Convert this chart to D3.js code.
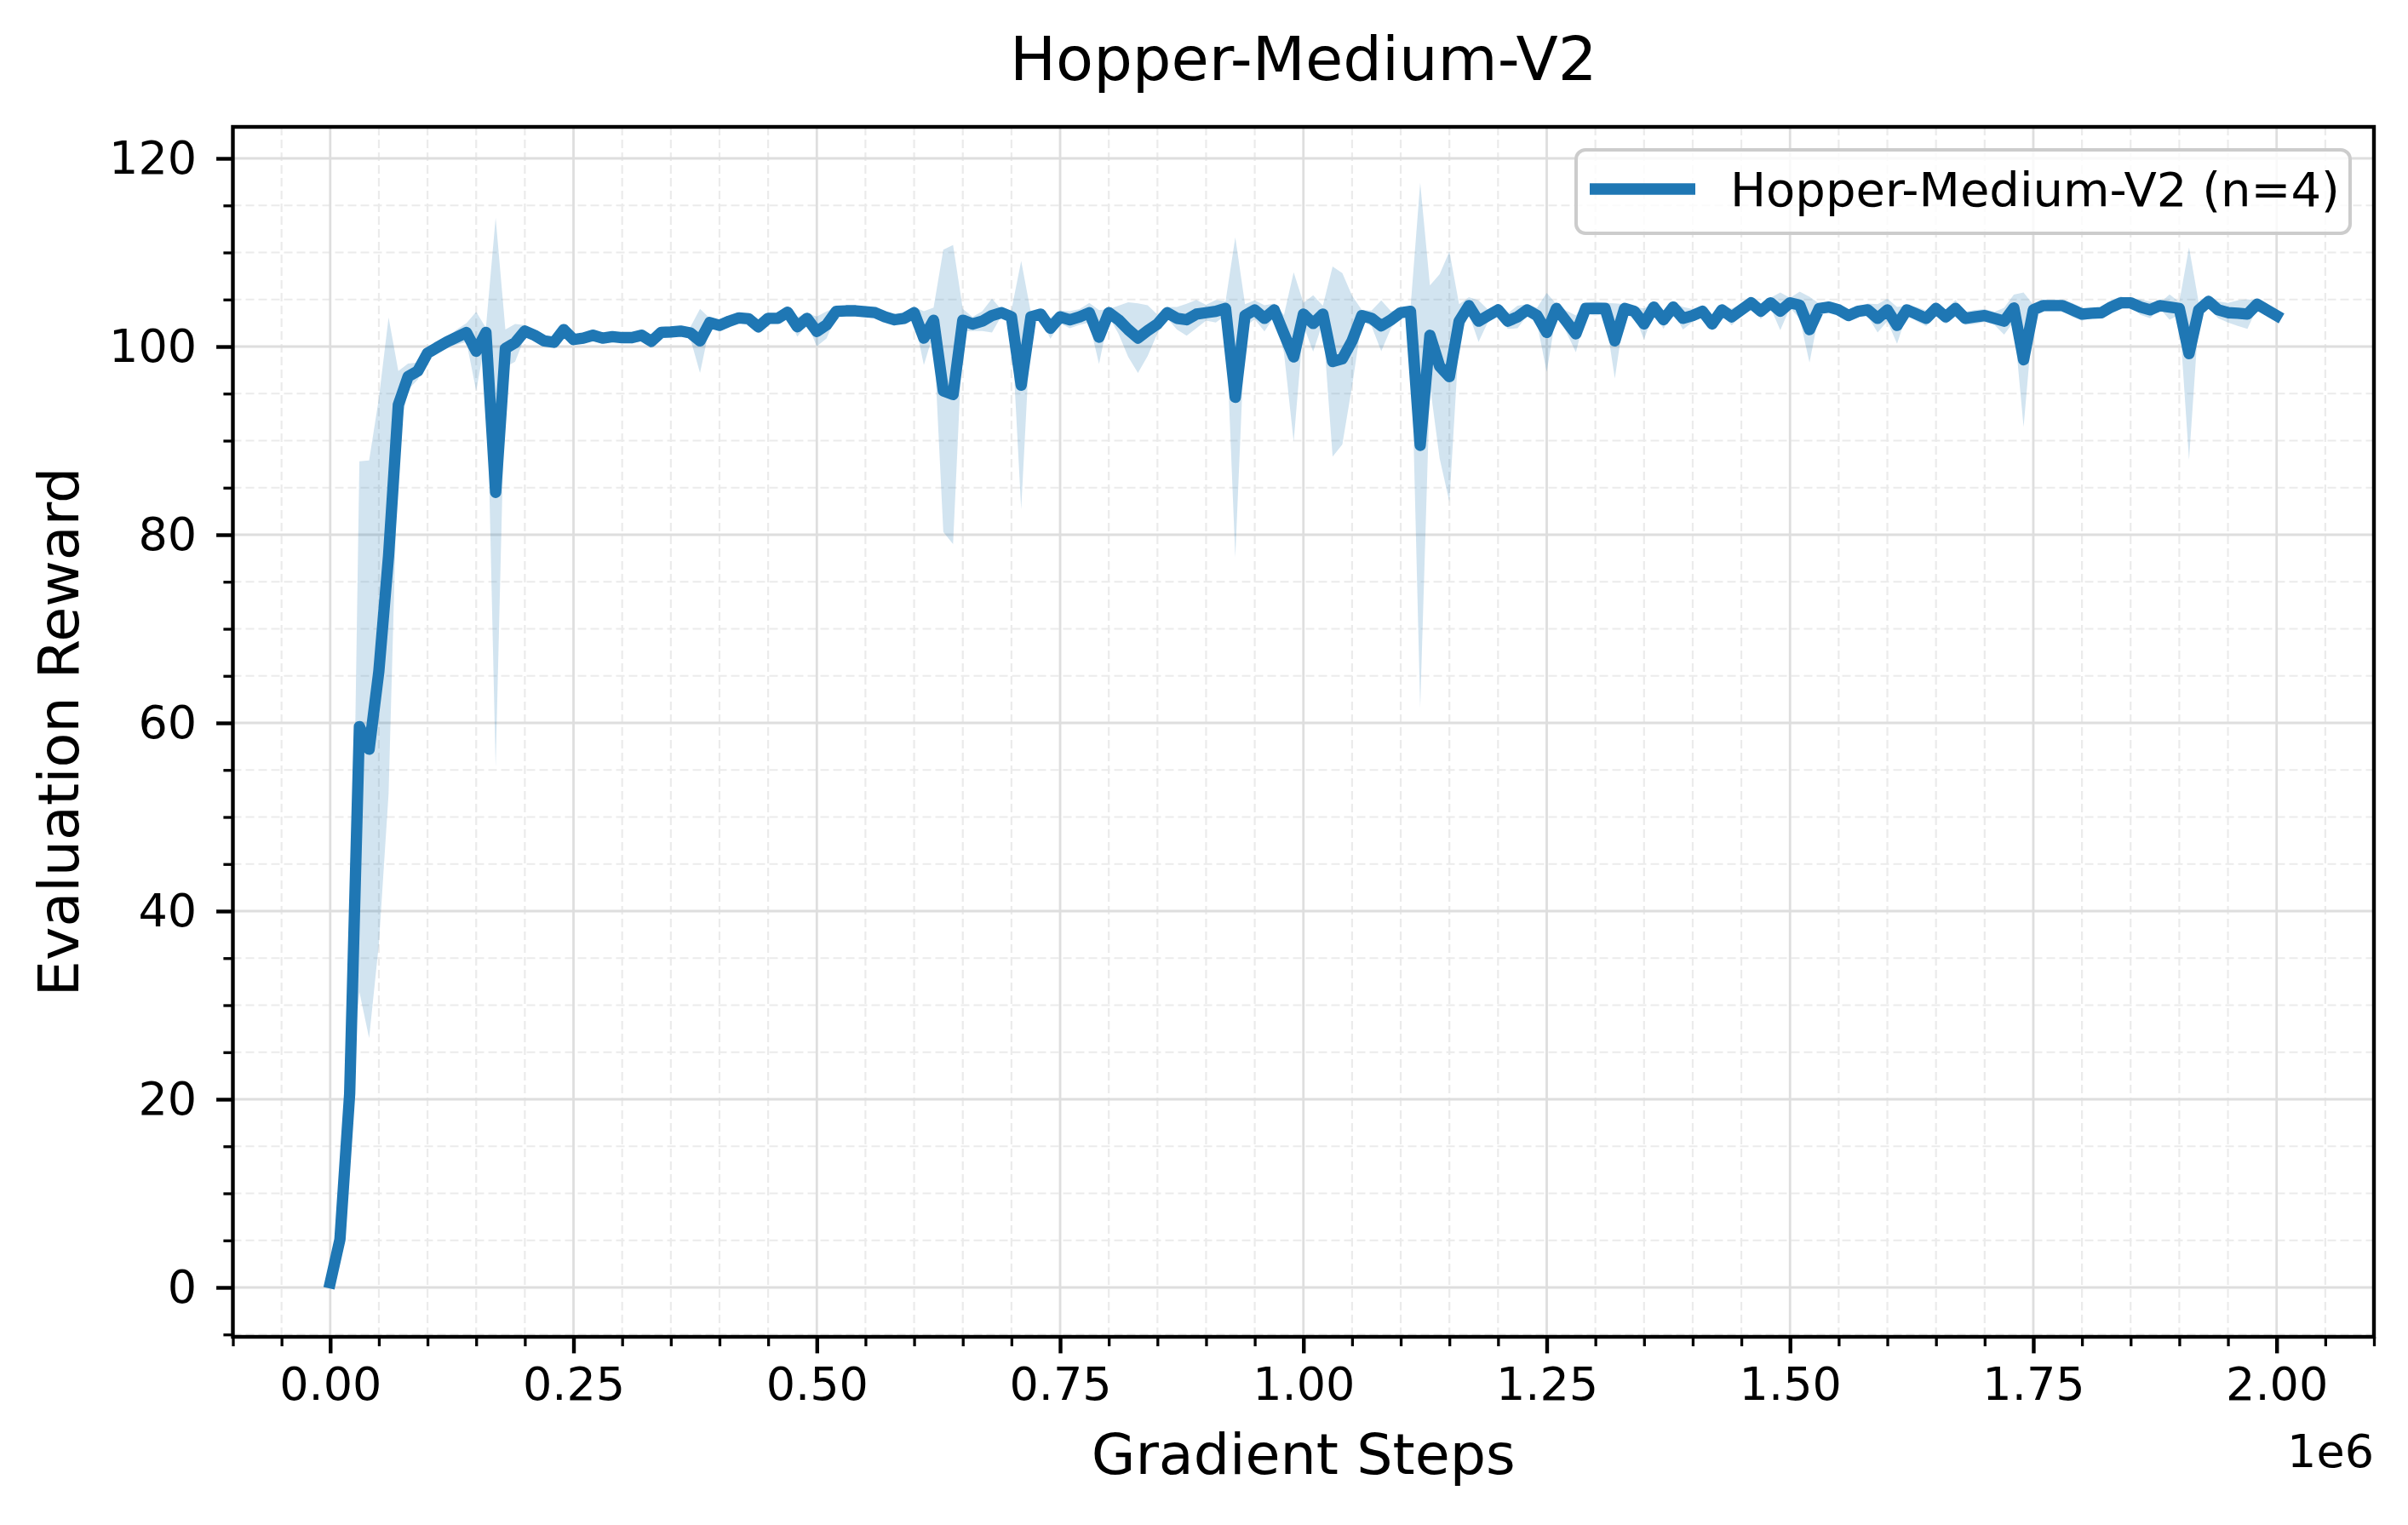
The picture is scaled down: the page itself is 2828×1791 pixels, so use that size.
<!DOCTYPE html>
<html>
<head>
<meta charset="utf-8">
<script src="https://cdn.jsdelivr.net/npm/d3@7"></script>
<style>
  html, body { margin: 0; padding: 0; background: #ffffff; }
  svg { display: block; }
  text { font-family: "DejaVu Sans", sans-serif; fill: #000; }
</style>
</head>
<body>
<svg id="chart" width="2828" height="1791"></svg>
<script>
// ---------------- data ----------------
const title = "Hopper-Medium-V2";
const seriesName = "Hopper-Medium-V2 (n=4)";
const xLabel = "Gradient Steps";
const yLabel = "Evaluation Reward";
const xOffsetLabel = "1e6";

// evaluation every 10k gradient steps, 0 .. 2e6
const steps = d3.range(0, 2000001, 10000);

const meanReward = [
  0.5, 5.1, 20.6, 59.6, 57.2, 65.5, 77.8, 93.8, 96.8, 97.4,
  99.3, 99.9, 100.5, 101.0, 101.5, 99.5, 101.5, 84.5, 99.8, 100.4,
  101.65, 101.2, 100.6, 100.45, 101.8, 100.75, 100.9, 101.2, 100.9, 101.05,
  100.95, 100.95, 101.2, 100.55, 101.5, 101.55, 101.65, 101.45, 100.6, 102.55,
  102.25, 102.7, 103.05, 102.95, 102.1, 103.0, 103.0, 103.65, 102.1, 103.0,
  101.6, 102.3, 103.75, 103.8, 103.8, 103.7, 103.6, 103.15, 102.85, 103.0,
  103.6, 100.9, 102.8, 95.3, 94.9, 102.8, 102.4, 102.7, 103.3, 103.6,
  103.15, 95.9, 103.15, 103.45, 101.95, 103.15, 102.85, 103.15, 103.6, 101.0,
  103.6, 102.85, 101.8, 100.9, 101.7, 102.4, 103.6, 103.0, 102.85, 103.45,
  103.6, 103.75, 104.05, 94.6, 103.3, 103.9, 103.0, 103.9, 101.35, 98.9,
  103.45, 102.45, 103.45, 98.4, 98.7, 100.6, 103.3, 103.0, 102.2, 102.85,
  103.6, 103.75, 89.5, 101.2, 97.9, 96.8, 102.7, 104.35, 102.7, 103.3,
  103.9, 102.7, 103.15, 103.9, 103.3, 101.5, 104.05, 102.7, 101.35, 104.05,
  104.05, 104.05, 100.6, 104.05, 103.75, 102.4, 104.2, 102.85, 104.2, 103.0,
  103.3, 103.75, 102.4, 103.9, 103.15, 103.9, 104.65, 103.75, 104.65, 103.75,
  104.65, 104.4, 101.8, 104.05, 104.2, 103.9, 103.3, 103.75, 103.9, 103.0,
  103.9, 102.25, 103.9, 103.45, 103.0, 104.05, 103.15, 104.05, 103.0, 103.15,
  103.3, 103.0, 102.7, 104.1, 98.6, 103.9, 104.35, 104.35, 104.35, 103.9,
  103.45, 103.55, 103.6, 104.2, 104.65, 104.65, 104.2, 103.9, 104.35, 104.2,
  104.05, 99.25, 103.9, 104.8, 103.9, 103.6, 103.55, 103.45, 104.5, 103.9,
  103.3
];

// standard deviation across the 4 seeds (shaded band = mean +/- std)
const stdReward = [
  0.2, 0.3, 0.6, 28.2, 30.7, 29.0, 25.3, 3.6, 1.4, 0.9,
  0.6, 0.6, 0.5, 0.8, 1.0, 4.2, 0.5, 29.2, 2.0, 2.0,
  0.63, 0.53, 0.45, 0.45, 0.45, 0.53, 0.53, 0.6, 0.53, 0.53,
  0.45, 0.6, 0.6, 0.45, 0.6, 0.6, 0.53, 0.6, 3.4, 0.45,
  0.6, 0.68, 0.53, 0.53, 0.45, 0.45, 0.53, 0.45, 1.05, 0.53,
  1.58, 1.43, 0.45, 0.45, 0.45, 0.4, 0.35, 0.4, 0.35, 0.4,
  0.6, 2.86, 1.35, 15.0, 15.9, 1.2, 0.75, 1.05, 1.8, 0.3,
  0.75, 13.2, 0.45, 0.45, 1.13, 0.68, 0.9, 0.83, 1.05, 2.86,
  0.38, 1.5, 2.9, 3.7, 2.7, 1.0, 0.6, 1.2, 1.7, 1.5,
  0.83, 1.2, 0.75, 17.0, 1.2, 1.0, 1.4, 0.68, 2.0, 9.0,
  1.2, 3.0, 0.9, 10.1, 9.1, 4.8, 0.6, 0.83, 2.7, 0.9,
  0.38, 0.3, 27.9, 5.3, 9.8, 13.3, 1.8, 0.9, 2.2, 0.6,
  0.45, 0.83, 1.2, 0.6, 0.83, 4.2, 0.45, 1.13, 1.95, 0.6,
  0.75, 0.6, 4.0, 0.45, 0.45, 1.65, 0.53, 0.98, 0.53, 1.2,
  0.68, 0.45, 0.68, 0.45, 0.9, 0.6, 0.45, 0.83, 0.53, 2.0,
  0.53, 1.43, 3.5, 0.53, 0.38, 0.3, 0.53, 0.53, 0.68, 1.5,
  1.2, 1.95, 0.45, 0.75, 0.83, 0.75, 0.75, 0.9, 0.68, 0.75,
  0.68, 0.68, 1.43, 1.43, 7.15, 0.53, 0.45, 0.45, 0.53, 0.75,
  0.68, 0.53, 0.53, 0.68, 0.68, 0.3, 0.83, 0.9, 0.3, 1.35,
  0.68, 11.3, 0.75, 0.68, 0.9, 1.05, 1.35, 1.58, 0.38, 0.68,
  0.45
];

const xTickValues = [0, 250000, 500000, 750000, 1000000, 1250000, 1500000, 1750000, 2000000];
const xTickLabels = ["0.00", "0.25", "0.50", "0.75", "1.00", "1.25", "1.50", "1.75", "2.00"];
const yTickValues = [0, 20, 40, 60, 80, 100, 120];
const yTickLabels = ["0", "20", "40", "60", "80", "100", "120"];
const xDomain = [-100000, 2100000];
const yDomain = [-5.25, 123.35];

// ---------------- layout ----------------
const W = 2828, H = 1791;
const plot = { left: 273.5, right: 2788, top: 149, bottom: 1570 };
const COLOR = "#1f77b4";

const svg = d3.select("#chart");
svg.append("rect").attr("width", W).attr("height", H).attr("fill", "#ffffff");

const x = d3.scaleLinear().domain(xDomain).range([plot.left, plot.right]);
const y = d3.scaleLinear().domain(yDomain).range([plot.bottom, plot.top]);

const data = steps.map((s, i) => ({ s, m: meanReward[i], sd: stdReward[i] }));

// minor tick positions (excluding majors)
const xMinor = d3.range(-100000, 2100001, 50000).filter(v => v % 250000 !== 0);
const yMinor = d3.range(-5, 121, 5).filter(v => v % 20 !== 0);

svg.append("defs").append("clipPath").attr("id", "clip")
  .append("rect")
  .attr("x", plot.left).attr("y", plot.top)
  .attr("width", plot.right - plot.left).attr("height", plot.bottom - plot.top);

// grid
const grid = svg.append("g");
grid.selectAll(".gxm").data(xMinor).join("line")
  .attr("x1", d => x(d)).attr("x2", d => x(d))
  .attr("y1", plot.top).attr("y2", plot.bottom)
  .attr("stroke", "#ebebeb").attr("stroke-width", 2.2).attr("stroke-dasharray", "10,5");
grid.selectAll(".gym").data(yMinor).join("line")
  .attr("y1", d => y(d)).attr("y2", d => y(d))
  .attr("x1", plot.left).attr("x2", plot.right)
  .attr("stroke", "#ebebeb").attr("stroke-width", 2.2).attr("stroke-dasharray", "10,5");
grid.selectAll(".gx").data(xTickValues).join("line")
  .attr("x1", d => x(d)).attr("x2", d => x(d))
  .attr("y1", plot.top).attr("y2", plot.bottom)
  .attr("stroke", "#dedede").attr("stroke-width", 2.8);
grid.selectAll(".gy").data(yTickValues).join("line")
  .attr("y1", d => y(d)).attr("y2", d => y(d))
  .attr("x1", plot.left).attr("x2", plot.right)
  .attr("stroke", "#dedede").attr("stroke-width", 2.8);

// band + line
const g = svg.append("g").attr("clip-path", "url(#clip)");
const area = d3.area()
  .x(d => x(d.s))
  .y0(d => y(d.m - d.sd))
  .y1(d => y(d.m + d.sd));
g.append("path").datum(data).attr("d", area)
  .attr("fill", COLOR).attr("fill-opacity", 0.2).attr("stroke", "none");

const line = d3.line().x(d => x(d.s)).y(d => y(d.m));
g.append("path").datum(data).attr("d", line)
  .attr("fill", "none").attr("stroke", COLOR).attr("stroke-width", 13.3)
  .attr("stroke-linejoin", "round").attr("stroke-linecap", "square");

// axes
const xAxis = d3.axisBottom(x).tickValues(xTickValues)
  .tickFormat((d, i) => xTickLabels[i]).tickSize(19.4).tickPadding(16);
const yAxis = d3.axisLeft(y).tickValues(yTickValues)
  .tickFormat((d, i) => yTickLabels[i]).tickSize(19.4).tickPadding(23);

const gx = svg.append("g").attr("transform", `translate(0,${plot.bottom})`).call(xAxis);
const gy = svg.append("g").attr("transform", `translate(${plot.left},0)`).call(yAxis);
[gx, gy].forEach(a => {
  a.select(".domain").remove();
  a.selectAll(".tick line").attr("stroke", "#000").attr("stroke-width", 4.4);
  a.selectAll(".tick text").attr("font-family", "DejaVu Sans").attr("font-size", 54).attr("fill", "#000");
});

// minor ticks
const gxMinor = svg.append("g").attr("transform", `translate(0,${plot.bottom})`)
  .call(d3.axisBottom(x).tickValues(xMinor).tickSize(11.1).tickFormat(""));
const gyMinor = svg.append("g").attr("transform", `translate(${plot.left},0)`)
  .call(d3.axisLeft(y).tickValues(yMinor).tickSize(11.1).tickFormat(""));
[gxMinor, gyMinor].forEach(a => {
  a.select(".domain").remove();
  a.selectAll(".tick line").attr("stroke", "#000").attr("stroke-width", 3.3);
});

// spines
svg.append("rect")
  .attr("x", plot.left).attr("y", plot.top)
  .attr("width", plot.right - plot.left).attr("height", plot.bottom - plot.top)
  .attr("fill", "none").attr("stroke", "#000").attr("stroke-width", 4.4);

// offset text
svg.append("text").attr("x", plot.right).attr("y", 1723)
  .attr("text-anchor", "end").attr("font-size", 54).text(xOffsetLabel);

// axis labels
svg.append("text").attr("x", (plot.left + plot.right) / 2).attr("y", 1731)
  .attr("text-anchor", "middle").attr("font-size", 66.7).text(xLabel);
svg.append("text")
  .attr("transform", `translate(92,${(plot.top + plot.bottom) / 2}) rotate(-90)`)
  .attr("text-anchor", "middle").attr("font-size", 66.7).text(yLabel);

// title
svg.append("text").attr("x", (plot.left + plot.right) / 2).attr("y", 94)
  .attr("text-anchor", "middle").attr("font-size", 72).text(title);

// legend
const lg = svg.append("g");
lg.append("rect").attr("x", 1851).attr("y", 176).attr("width", 909).attr("height", 98)
  .attr("rx", 11).attr("ry", 11)
  .attr("fill", "#ffffff").attr("fill-opacity", 0.8)
  .attr("stroke", "#cccccc").attr("stroke-width", 4);
lg.append("line").attr("x1", 1867).attr("x2", 1991).attr("y1", 222).attr("y2", 222)
  .attr("stroke", COLOR).attr("stroke-width", 13.3);
lg.append("text").attr("x", 2032).attr("y", 242).attr("font-size", 56).text(seriesName);
</script>
</body>
</html>
